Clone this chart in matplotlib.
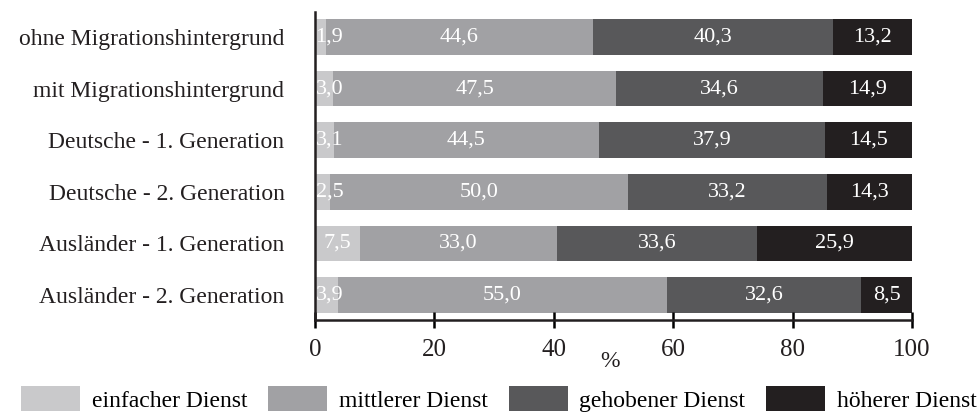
import matplotlib
matplotlib.use("Agg")
import matplotlib.pyplot as plt
from matplotlib.patches import Patch

plt.rcParams['font.family'] = ['Liberation Serif', 'DejaVu Serif']

categories = ["ohne Migrationshintergrund", "mit Migrationshintergrund",
              "Deutsche - 1. Generation", "Deutsche - 2. Generation",
              "Ausländer - 1. Generation", "Ausländer - 2. Generation"]
series_names = ["einfacher Dienst", "mittlerer Dienst", "gehobener Dienst", "höherer Dienst"]
einfach = [1.9, 3.0, 3.1, 2.5, 7.5, 3.9]
mittel = [44.6, 47.5, 44.5, 50.0, 33.0, 55.0]
gehoben = [40.3, 34.6, 37.9, 33.2, 33.6, 32.6]
hoeher = [13.2, 14.9, 14.5, 14.3, 25.9, 8.5]
series = [einfach, mittel, gehoben, hoeher]
colors = ["#c9c9cb", "#a1a1a4", "#58585a", "#231f20"]
xticks = [0, 20, 40, 60, 80, 100]

fig = plt.figure(figsize=(9.8, 4.13), dpi=100)
ax = fig.add_axes([315/980, 93/413, 597/980, 308/413])

y = list(range(len(categories)))
left = [0.0]*len(categories)
for vals, col in zip(series, colors):
    ax.barh(y, vals, left=left, height=0.69, color=col, edgecolor='none')
    for i, v in enumerate(vals):
        label = f"{v:.1f}".replace('.', ',')
        if v < 5:
            ax.text(left[i] + 0.1, i, label, ha='left', va='center',
                    color='white', fontsize=16)
        else:
            ax.text(left[i] + v/2, i, label, ha='center', va='center',
                    color='white', fontsize=16)
    left = [l + v for l, v in zip(left, vals)]

ax.set_xlim(0, 100)
ax.set_ylim(len(categories) - 0.515, -0.485)
ax.set_yticks(y)
ax.set_yticklabels(categories, fontsize=17, color='#231f20')
ax.tick_params(axis='y', length=0, pad=22)
ax.set_xticks(xticks)
ax.set_xticklabels([str(t) for t in xticks], fontsize=18, color='#231f20')
ax.tick_params(axis='x', direction='inout', length=12, width=1.8, pad=8)
for s in ['top', 'right']:
    ax.spines[s].set_visible(False)
for s in ['left', 'bottom']:
    ax.spines[s].set_linewidth(1.8)
    ax.spines[s].set_color('#231f20')
ax.set_xlabel('%', fontsize=17, color='#231f20')
ax.xaxis.set_label_coords(0.494, -0.135)
ax.xaxis.label.set_va('center')

handles = [Patch(facecolor=c, edgecolor='none') for c in colors]
fig.legend(handles, series_names, loc='center left',
           bbox_to_anchor=(21/980, 14/413), ncol=4, frameon=False,
           fontsize=17, handlelength=2.5, handleheight=1.2,
           handletextpad=0.5, columnspacing=0.88, borderpad=0, borderaxespad=0)

fig.savefig("out.png", dpi=100)
